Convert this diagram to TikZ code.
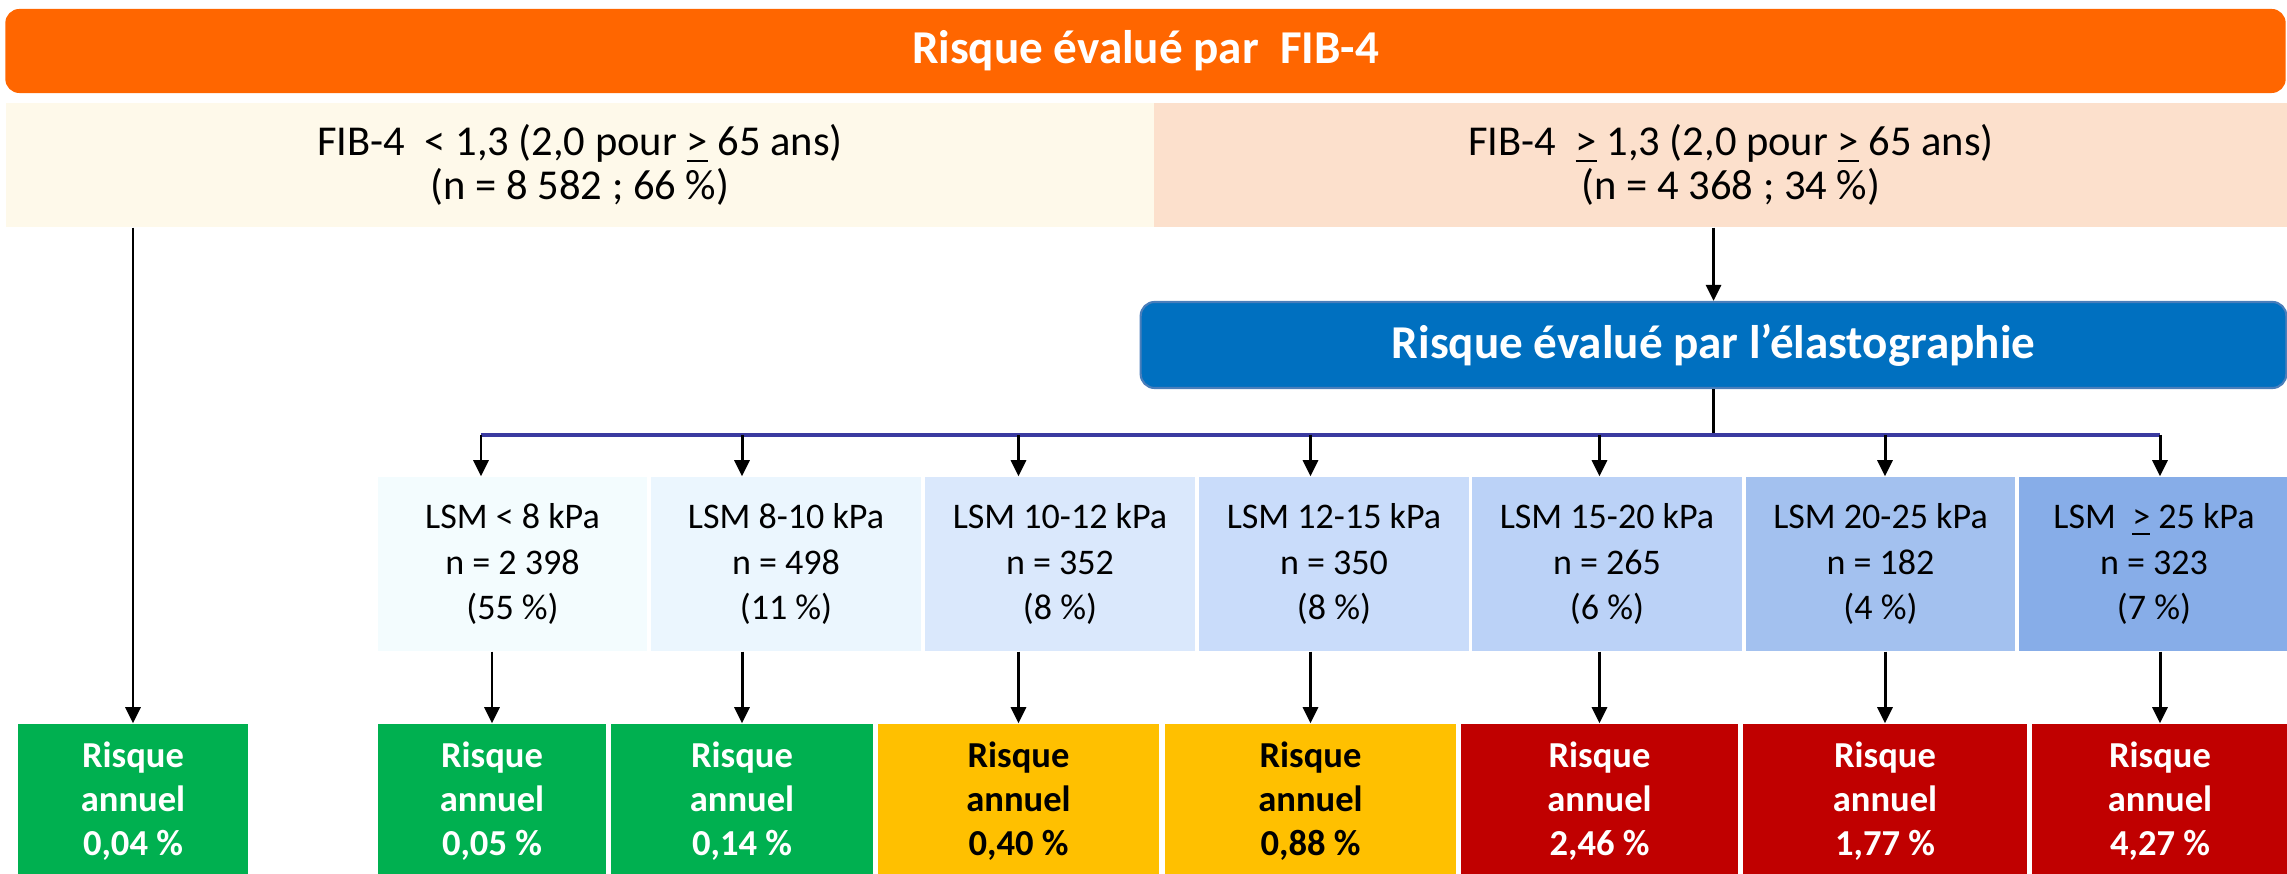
\documentclass[tikz,border=0pt]{standalone}
\usepackage{fontspec}
\setmainfont{Carlito}
\usepackage{xcolor}
\usetikzlibrary{positioning}
\usetikzlibrary{arrows.meta,calc}

\definecolor{orangefib}{HTML}{FF6600}
\definecolor{creme}{HTML}{FEF9EA}
\definecolor{peche}{HTML}{FCE0CC}
\definecolor{bleuelasto}{HTML}{0070C0}
\definecolor{bordelasto}{HTML}{4A7EBB}
\definecolor{bleubarre}{HTML}{3A3AA0}
\definecolor{lsmA}{HTML}{F3FCFE}
\definecolor{lsmB}{HTML}{EBF6FE}
\definecolor{lsmC}{HTML}{DAE8FC}
\definecolor{lsmD}{HTML}{C9DCFA}
\definecolor{lsmE}{HTML}{BBD2F7}
\definecolor{lsmF}{HTML}{A3C1EF}
\definecolor{lsmG}{HTML}{87ADE8}
\definecolor{vert}{HTML}{00B050}
\definecolor{jaune}{HTML}{FFC000}
\definecolor{rouge}{HTML}{C00000}

\begin{document}
\begin{tikzpicture} [
  x = 0.01cm, y = -0.01cm,
  titre/.style = {rounded corners = 0.14cm, inner sep = 0pt, text = white,
    font = \fontsize{13.4}{16}\selectfont\bfseries},
  boite/.style = {inner sep = 0pt, minimum height = 1.24cm, align = center,
    font = \fontsize{12.1}{12.3}\selectfont\lineskiplimit -6pt\relax},
  lsm/.style = {inner sep = 0pt, minimum width = 2.69cm, minimum height = 1.74cm,
    align = center, font = \fontsize{10.25}{12.8}\selectfont},
  risque/.style = {inner sep = 0pt, minimum height = 1.54cm, align = center,
    text = white, font = \fontsize{10.4}{12.5}\selectfont\bfseries},
  barre/.style = {draw = bleubarre, line width = 1.15pt},
  line/.style = {draw, line width = 0.85pt, -{Triangle[width = 0.15cm, length = 0.16cm]}},
]

 \useasboundingbox (0,0) rectangle (2287,874);

 \node [titre, fill = orangefib, minimum width = 22.79cm, minimum height = 0.84cm] (fib) at (1145.5,51) {Risque évalué par\hspace{0.45em}FIB-4};

 \node [boite, fill = creme, minimum width = 11.48cm] (fibbas) at (580,165) {FIB-4\ \ < 1,3 (2,0 pour \underline{>} 65 ans)\\(n = 8 582 ; 66 \%)};
 \node [boite, fill = peche, minimum width = 11.54cm] (fibhaut) at (1731,165) {FIB-4\ \ \underline{>} 1,3 (2,0 pour \underline{>} 65 ans)\\(n = 4 368 ; 34 \%)};

 \node [titre, fill = bleuelasto, draw = bordelasto, line width = 0.6pt, minimum width = 11.45cm, minimum height = 0.86cm] (elasto) at (1713.5,345) {Risque évalué par l’élastographie};
 \coordinate (bus) at (1717,435);

 \node [lsm, fill = lsmA] (lsm1) at (512.5,564) {LSM < 8 kPa\\n = 2 398\\(55 \%)};
 \node [lsm, fill = lsmB] (lsm2) at (786,564) {LSM 8-10 kPa\\n = 498\\(11 \%)};
 \node [lsm, fill = lsmC] (lsm3) at (1060,564) {LSM 10-12 kPa\\n = 352\\(8 \%)};
 \node [lsm, fill = lsmD] (lsm4) at (1334,564) {LSM 12-15 kPa\\n = 350\\(8 \%)};
 \node [lsm, fill = lsmE] (lsm5) at (1607,564) {LSM 15-20 kPa\\n = 265\\(6 \%)};
 \node [lsm, fill = lsmF] (lsm6) at (1880.5,564) {LSM 20-25 kPa\\n = 182\\(4 \%)};
 \node [lsm, fill = lsmG] (lsm7) at (2154,564) {LSM\ \ \underline{>} 25 kPa\\n = 323\\(7 \%)};

 \node [risque, fill = vert, minimum width = 2.30cm] (risqA) at (133,801) {Risque\\annuel\\0,04 \%};
 \node [risque, fill = vert, minimum width = 2.28cm] (risqB) at (492,801) {Risque\\annuel\\0,05 \%};
 \node [risque, fill = vert, minimum width = 2.62cm] (risqC) at (742,801) {Risque\\annuel\\0,14 \%};
 \node [risque, fill = jaune, text = black, minimum width = 2.81cm] (risqD) at (1018.5,801) {Risque\\annuel\\0,40 \%};
 \node [risque, fill = jaune, text = black, minimum width = 2.91cm] (risqE) at (1310.5,801) {Risque\\annuel\\0,88 \%};
 \node [risque, fill = rouge, minimum width = 2.77cm] (risqF) at (1599.5,801) {Risque\\annuel\\2,46 \%};
 \node [risque, fill = rouge, minimum width = 2.84cm] (risqG) at (1885,801) {Risque\\annuel\\1,77 \%};
 \node [risque, fill = rouge, minimum width = 2.56cm] (risqH) at (2160,801) {Risque\\annuel\\4,27 \%};

 % branche elastographie
 \coordinate (debut) at ($(risqB.north |- bus)+(-11,0)$);
 \draw [line width = 0.85pt] (elasto.south) -- (elasto.south |- bus);
 \draw [barre] (debut) -- (risqH.north |- bus);

 \begin{scope}[every path/.style=line]
\path (risqA.north |- fibbas.south) -- (risqA.north);
\path (fibhaut.south -| elasto.north) -- (elasto.north);

\path (debut) -- (debut |- lsm1.north);
\path (risqC.north |- bus) -- (risqC.north |- lsm2.north);
\path (risqD.north |- bus) -- (risqD.north |- lsm3.north);
\path (risqE.north |- bus) -- (risqE.north |- lsm4.north);
\path (risqF.north |- bus) -- (risqF.north |- lsm5.north);
\path (risqG.north |- bus) -- (risqG.north |- lsm6.north);
\path (risqH.north |- bus) -- (risqH.north |- lsm7.north);

\path (risqB.north |- lsm1.south) -- (risqB.north);
\path (risqC.north |- lsm2.south) -- (risqC.north);
\path (risqD.north |- lsm3.south) -- (risqD.north);
\path (risqE.north |- lsm4.south) -- (risqE.north);
\path (risqF.north |- lsm5.south) -- (risqF.north);
\path (risqG.north |- lsm6.south) -- (risqG.north);
\path (risqH.north |- lsm7.south) -- (risqH.north);
\end{scope}

\end{tikzpicture}
\end{document}
